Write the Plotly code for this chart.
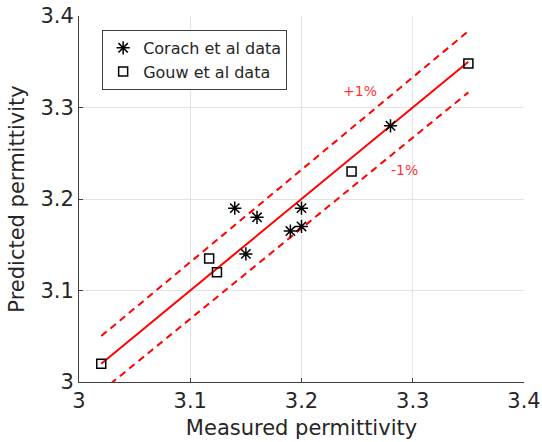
import plotly.graph_objects as go

corach_x = [3.14, 3.16, 3.15, 3.19, 3.20, 3.20, 3.28]
corach_y = [3.19, 3.18, 3.14, 3.165, 3.19, 3.17, 3.28]
gouw_x = [3.02, 3.117, 3.124, 3.245, 3.35]
gouw_y = [3.02, 3.135, 3.12, 3.23, 3.348]
fit_x = [3.02, 3.35]
fit_y = [3.02, 3.35]
upper_y = [3.0502, 3.3835]
lower_y = [2.9898, 3.3165]
tick_vals = [3.0, 3.1, 3.2, 3.3, 3.4]
tick_text = ["3", "3.1", "3.2", "3.3", "3.4"]

RED = "#ff0000"
FONT = "DejaVu Sans"
TXT = "#262626"

fig = go.Figure()
fig.add_trace(go.Scatter(x=fit_x, y=fit_y, mode="lines", line=dict(color=RED, width=2), showlegend=False))
fig.add_trace(go.Scatter(x=fit_x, y=upper_y, mode="lines", line=dict(color=RED, width=2, dash="7px,5px"), showlegend=False))
fig.add_trace(go.Scatter(x=fit_x, y=lower_y, mode="lines", line=dict(color=RED, width=2, dash="7px,5px"), showlegend=False))
fig.add_trace(go.Scatter(x=corach_x, y=corach_y, mode="markers", name="Corach et al data",
                         marker=dict(symbol="asterisk-open", size=11, color="black", line=dict(color="black", width=1.5))))
fig.add_trace(go.Scatter(x=gouw_x, y=gouw_y, mode="markers", name="Gouw et al data",
                         marker=dict(symbol="square-open", size=9, color="black", line=dict(color="black", width=1.5))))

fig.add_annotation(x=3.253, y=3.318, text="+1%", showarrow=False, font=dict(color="#ff3333", size=14, family=FONT))
fig.add_annotation(x=3.293, y=3.232, text="-1%", showarrow=False, font=dict(color="#ff3333", size=14, family=FONT))

axis_common = dict(
    range=[3.0, 3.4], tickvals=tick_vals, ticktext=tick_text,
    showgrid=True, gridcolor="#e3e3e3", gridwidth=1,
    showline=True, linecolor="#404040", linewidth=1,
    ticks="inside", ticklen=4, tickcolor="#404040",
    zeroline=False, automargin=False,
    tickfont=dict(size=21, color=TXT, family=FONT),
)
fig.update_xaxes(**axis_common, title=dict(text="Measured permittivity", font=dict(size=21, color=TXT, family=FONT), standoff=8))
fig.update_yaxes(**axis_common, title=dict(text="Predicted permittivity", font=dict(size=21, color=TXT, family=FONT), standoff=10))

fig.update_layout(
    width=542, height=442,
    margin=dict(l=79, r=18, t=16, b=60),
    plot_bgcolor="white", paper_bgcolor="white",
    font=dict(family=FONT),
    legend=dict(x=0.052, y=0.962, xanchor="left", yanchor="top",
                bgcolor="white", bordercolor="#404040", borderwidth=1,
                font=dict(size=16, color=TXT, family=FONT),
                itemwidth=30, tracegroupgap=0),
)

fig.write_html("out.html", config={"displayModeBar": False},
               post_script="document.body.style.margin='0px';document.body.style.overflow='hidden';")
